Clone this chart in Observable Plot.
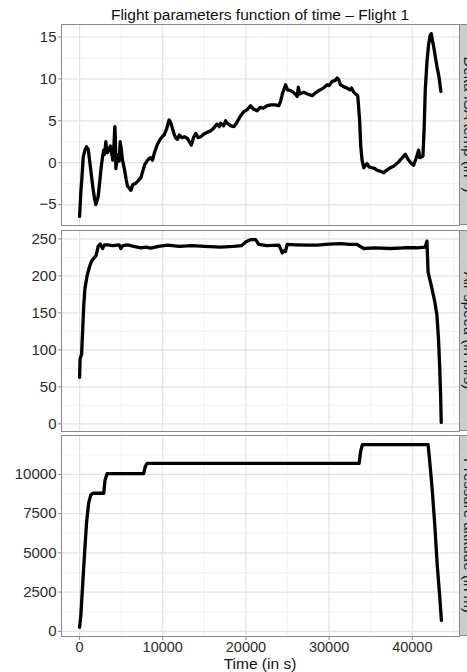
<!DOCTYPE html>
<html>
<head>
<meta charset="utf-8">
<script src="https://cdn.jsdelivr.net/npm/d3@7"></script>
<script src="https://cdn.jsdelivr.net/npm/@observablehq/plot@0.6"></script>
<style>
  html, body { margin: 0; padding: 0; background: #fff; }
  #chart { position: relative; width: 467px; height: 672px; overflow: hidden; font-family: "Liberation Sans", Arial, sans-serif; }
  #chart svg { overflow: visible; }
  .panel { position: absolute; left: 0; }
</style>
</head>
<body>
<div id="chart"></div>
<script>
// ---------- data ----------
const title = "Flight parameters function of time \u2013 Flight 1";
const xTitle = "Time (in s)";
const stripLabels = ["Delta ISA temp (in \u00b0)", "Air speed (in m/s)", "Pressure altitude (in m)"];

const xTicks = [0, 10000, 20000, 30000, 40000];
const tempTicks = [-5, 0, 5, 10, 15];
const speedTicks = [0, 50, 100, 150, 200, 250];
const altTicks = [0, 2500, 5000, 7500, 10000];

const tempTime = [0,150,300,440,650,840,1040,1300,1600,1800,1960,2100,2240,2450,2600,2760,2900,3000,3160,3260,3360,3500,3700,3850,3990,4100,4240,4300,4360,4500,4640,4760,4880,5000,5160,5400,5600,5760,5950,6160,6400,6700,7000,7360,7600,7840,8100,8360,8550,8760,9000,9360,9700,10000,10160,10450,10760,10950,11160,11400,11600,11760,12000,12300,12600,12960,13200,13440,13700,13960,14250,14560,14900,15300,15760,16100,16500,16800,16960,17300,17560,17760,18200,18560,18900,19300,19760,20100,20400,20560,20900,21360,21700,22100,22560,23000,23500,23960,24160,24400,24600,24760,25000,25360,25700,26000,26160,26300,26450,26960,27400,27960,28300,28760,29300,29760,30000,30360,30700,30960,31150,31360,31700,32160,32500,32700,32960,33200,33440,33560,33670,33800,33960,34160,34360,34560,34800,35160,35500,35760,36100,36560,36900,37360,37800,38360,38700,39160,39500,39800,40160,40450,40760,40900,41100,41280,41420,41560,41760,41960,42150,42280,42420,42560,42760,42960,43200,43440];
const tempValue = [-6.4,-3.5,-1.5,0.7,1.5,1.9,1.6,-0.5,-3.0,-4.3,-5.0,-4.5,-4.0,-2.0,-0.5,0.7,1.5,1.0,2.5,1.3,1.2,1.6,2.0,1.2,0.3,1.5,4.3,3.0,-0.7,0.3,1.0,0.2,2.5,1.7,0.3,-0.8,-2.0,-2.8,-3.0,-3.3,-2.6,-2.5,-2.2,-1.8,-1.0,-0.2,0.2,0.5,0.6,0.3,1.2,2.2,2.8,3.2,3.3,4.0,5.1,4.8,4.1,3.3,2.9,2.8,3.3,3.0,3.1,2.9,2.5,2.1,3.0,3.5,3.0,3.1,3.4,3.6,3.8,4.1,4.6,4.3,4.7,4.4,5.0,4.7,4.4,4.3,4.8,5.5,6.1,6.3,6.6,6.8,6.4,6.2,6.6,6.5,6.8,6.9,6.9,6.8,7.3,8.3,8.8,9.3,8.7,8.6,8.4,8.1,7.9,9.0,8.2,8.4,8.2,8.0,8.3,8.6,8.9,9.3,9.2,9.7,9.8,10.1,9.9,9.3,9.1,8.9,8.7,8.9,8.4,8.2,8.0,6.5,5.0,2.0,0.3,-0.6,-0.3,-0.1,-0.5,-0.6,-0.7,-0.9,-1.0,-1.2,-0.9,-0.6,-0.4,0.1,0.5,1.0,0.4,0.0,-0.3,0.5,1.5,0.6,0.7,0.8,4.0,8.7,12.0,14.1,15.2,15.4,14.6,13.9,12.7,11.5,10.3,8.5];

const speedTime = [0,60,240,360,500,640,900,1160,1400,1560,1800,1960,2100,2240,2480,2760,3000,3360,4000,4760,4960,5200,5760,6500,7360,8000,8560,9500,10560,12000,13500,15000,16960,18500,19500,20000,20560,21160,21560,22500,23960,24200,24360,24600,24760,24960,26000,27500,28560,30000,31360,32500,33360,33700,34160,35500,37360,39000,40500,41560,41760,41900,42360,42700,42960,43150,43300,43400,43480];
const speedValue = [63,88,94,124,160,183,200,211,219,222,225,227,233,240,243,237,242,242,241,242,237,241,242,240,238,239,237.5,240,241.5,240,241,240,239,240,241,246,249,249,242.5,241,241.5,236,231,234,233,242.5,242,241.5,241.5,243,243.5,242.5,242.5,240,237,238,237,238,238,239,247,205,183,165,147,115,75,40,2];

const altTime = [0,150,350,600,850,1100,1350,1600,2900,3050,3300,7700,7900,8100,33600,33800,34000,41900,42100,42400,42700,43000,43300,43500];
const altValue = [250,1000,2800,5000,7000,8200,8700,8800,8800,9600,10050,10050,10500,10700,10700,11500,11900,11900,10800,9000,6800,4200,2200,700];

// ---------- helpers ----------
const rows = (ts, vs) => ts.map((t, i) => ({t, v: vs[i]}));
const expand = (arr) => { const [a, b] = d3.extent(arr); const p = (b - a) * 0.05; return [a - p, b + p]; };
const mids = (ticks, dom) => {
  const step = ticks[1] - ticks[0];
  const out = [];
  for (let v = ticks[0] - step / 2; v <= dom[1]; v += step) if (v >= dom[0]) out.push(v);
  return out;
};

const xDomain = expand([...tempTime, ...speedTime, ...altTime]);
const xMinor = mids(xTicks, xDomain);

const W = 467, PL = 61, PR = 8, PH = 201;
const tops = [24, 230, 435];
const fmt = d3.format("d");

function panel(data, yTicks, top, showX) {
  const yDomain = expand(data.map(d => d.v));
  const yMinor = mids(yTicks, yDomain);
  const marks = [
    Plot.gridX(xMinor, {stroke: "#f3f3f3", strokeOpacity: 1, strokeWidth: 1}),
    Plot.gridY(yMinor, {stroke: "#f3f3f3", strokeOpacity: 1, strokeWidth: 1}),
    Plot.gridX(xTicks, {stroke: "#e3e3e3", strokeOpacity: 1, strokeWidth: 1.2}),
    Plot.gridY(yTicks, {stroke: "#e3e3e3", strokeOpacity: 1, strokeWidth: 1.2}),
    Plot.line(data, {x: "t", y: "v", stroke: "black", strokeWidth: 3.3, strokeLinejoin: "round", strokeLinecap: "round"}),
    Plot.frame({stroke: "#8a8a8a", strokeWidth: 1}),
    Plot.axisY(yTicks, {tickSize: 3, tickPadding: 2, tickFormat: fmt, label: null, stroke: "#8a8a8a", fill: "#2b2b2b", fontSize: 15})
  ];
  if (showX) marks.push(Plot.axisX(xTicks, {tickSize: 4, tickPadding: 1, tickFormat: fmt, label: null, stroke: "#8a8a8a", fill: "#2b2b2b", fontSize: 14.5}));
  const svg = Plot.plot({
    width: W, height: PH + (showX ? 37 : 0),
    marginLeft: PL, marginRight: PR, marginTop: 0, marginBottom: showX ? 37 : 0,
    x: {domain: xDomain, axis: null},
    y: {domain: yDomain, axis: null},
    style: {fontFamily: "'Liberation Sans', Arial, sans-serif", fontSize: "15px", background: "transparent", overflow: "visible"},
    marks
  });
  svg.classList.add("panel");
  svg.style.top = top + "px";
  return svg;
}

const chart = document.getElementById("chart");
chart.appendChild(panel(rows(tempTime, tempValue), tempTicks, tops[0], false));
chart.appendChild(panel(rows(speedTime, speedValue), speedTicks, tops[1], false));
chart.appendChild(panel(rows(altTime, altValue), altTicks, tops[2], true));

// ---------- overlay: title, strips, x title ----------
const ns = "http://www.w3.org/2000/svg";
const ov = document.createElementNS(ns, "svg");
ov.setAttribute("width", W); ov.setAttribute("height", 672);
ov.setAttribute("style", "position:absolute;left:0;top:0;font-family:'Liberation Sans', Arial, sans-serif;");
function el(tag, attrs, text) {
  const e = document.createElementNS(ns, tag);
  for (const k in attrs) e.setAttribute(k, attrs[k]);
  if (text != null) e.textContent = text;
  ov.appendChild(e);
  return e;
}
const cx = (PL + (W - PR)) / 2;
el("text", {x: cx, y: 20, "text-anchor": "middle", "font-size": 15.5, fill: "#111"}, title);
el("text", {x: cx, y: 669, "text-anchor": "middle", "font-size": 15.5, fill: "#111"}, xTitle);
tops.forEach((t, i) => {
  el("rect", {x: W - PR + 0.5, y: t + 0.5, width: 30, height: PH - 1, fill: "#cccccc", stroke: "#8a8a8a", "stroke-width": 1});
  el("text", {transform: `translate(464,${t + PH / 2}) rotate(90)`, "text-anchor": "middle", "font-size": 15, fill: "#1a1a1a"}, stripLabels[i]);
});
chart.appendChild(ov);
</script>
</body>
</html>
